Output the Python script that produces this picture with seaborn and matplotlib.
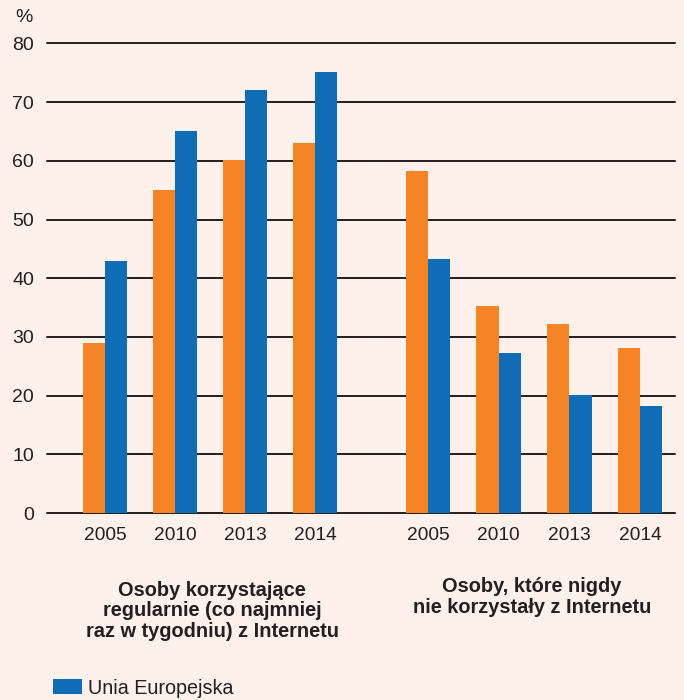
import matplotlib
matplotlib.use("Agg")
import matplotlib.pyplot as plt
import seaborn as sns
import pandas as pd

years = ["2005", "2010", "2013", "2014"]
series = ["Polska", "Unia Europejska"]
regular_pl = [29, 55, 60.2, 63]
regular_eu = [43, 65, 72, 75.1]
never_pl = [58.2, 35.2, 32.2, 28.1]
never_eu = [43.2, 27.2, 20.1, 18.2]
group_titles = ["Osoby korzystające\nregularnie (co najmniej\nraz w tygodniu) z Internetu",
                "Osoby, które nigdy\nnie korzystały z Internetu"]
y_ticks = [0, 10, 20, 30, 40, 50, 60, 70, 80]

BG = "#FEF0EB"
ORANGE = "#F58426"
BLUE = "#106CB5"
INK = "#231F20"

sns.set_theme(style="white")
plt.rcParams['font.family'] = ['Liberation Sans', 'DejaVu Sans']

def frame(pl, eu):
    return pd.DataFrame({
        "year": years * 2,
        "series": [series[0]] * 4 + [series[1]] * 4,
        "value": pl + eu,
    })

fig = plt.figure(figsize=(6.84, 7.00), dpi=100)
fig.patch.set_facecolor(BG)
W, H = 684, 700
split = 371
bottom = 1 - 513 / H
top = 1 - 43.4 / H
axL = fig.add_axes([47 / W, bottom, (split - 47) / W, top - bottom])
axR = fig.add_axes([split / W, bottom, (675 - split) / W, top - bottom])

pal = {series[0]: ORANGE, series[1]: BLUE}
for ax, (pl, eu) in ((axL, (regular_pl, regular_eu)), (axR, (never_pl, never_eu))):
    ax.set_facecolor(BG)
    sns.barplot(data=frame(pl, eu), x="year", y="value", hue="series",
                order=years, hue_order=series, palette=pal, width=0.63,
                gap=0, saturation=1, ax=ax, legend=True, zorder=3,
                linewidth=0, edgecolor="none")
    ax.set_ylim(0, 80)
    ax.set_yticks(y_ticks)
    ax.set_xlabel("")
    ax.set_ylabel("")
    for s in ax.spines.values():
        s.set_visible(False)
    for t in y_ticks:
        ax.axhline(t, color=INK, lw=1.4, zorder=1, clip_on=False)
    ax.tick_params(axis="x", length=0, pad=10, labelsize=13.8, labelcolor=INK)
    ax.tick_params(axis="y", length=0, pad=9.4, labelsize=14, labelcolor=INK)

axL.set_xlim(-(105 - 47) / 70, 3 + (split - 315) / 70)
axR.set_xlim(-(428 - split) / 70.67, 3 + (675 - 640) / 70.67)
axR.set_yticklabels([])

handles, labels = axL.get_legend_handles_labels()
axL.get_legend().remove()
axR.get_legend().remove()

fig.text(33 / W, 1 - 17 / H, "%", ha="right", va="center", fontsize=14, color=INK)

fig.text(212 / W, 1 - 611 / H, group_titles[0], ha="center", va="center",
         fontsize=14.4, fontweight="bold", color=INK, linespacing=1.08)
fig.text(532 / W, 1 - 597 / H, group_titles[1], ha="center", va="center",
         fontsize=14.4, fontweight="bold", color=INK, linespacing=1.08)

leg = fig.legend([handles[1]], [labels[1]], loc="center left",
                 bbox_to_anchor=(53 / W, 1 - 688 / H), frameon=False,
                 fontsize=14.2, handlelength=1.45, handleheight=0.8,
                 handletextpad=0.35, borderaxespad=0, borderpad=0)
for t in leg.get_texts():
    t.set_color(INK)

fig.savefig("out.png", dpi=100, facecolor=BG)
